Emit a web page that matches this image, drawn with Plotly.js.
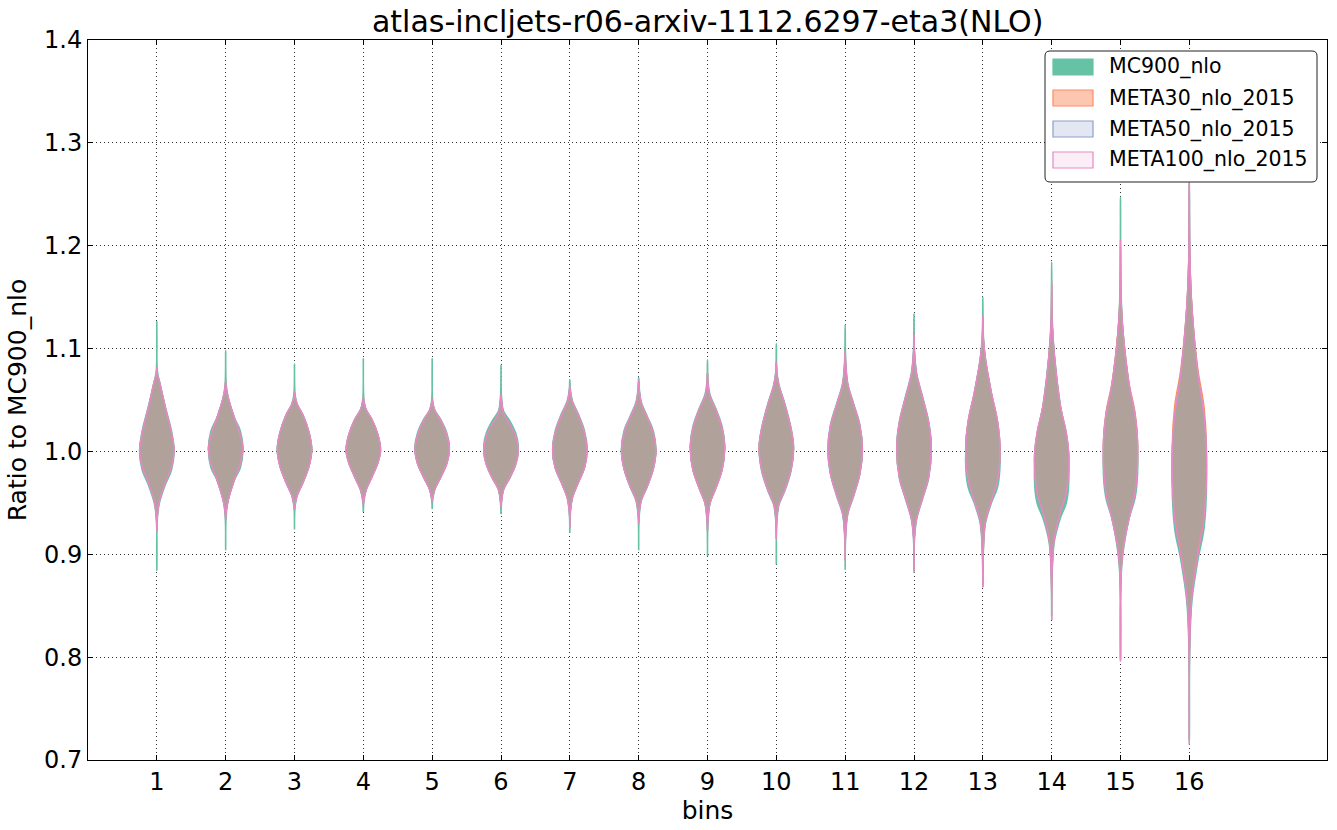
<!DOCTYPE html>
<html>
<head>
<meta charset="utf-8">
<script src="https://cdn.plot.ly/plotly-3.0.1.min.js"></script>
<style>html,body{margin:0;padding:0;background:#fff;}#chart{width:1337px;height:830px;}</style>
</head>
<body>
<div id="chart"></div>
<script>
// ---- data ----
const bins = [1,2,3,4,5,6,7,8,9,10,11,12,13,14,15,16];
const seriesNames = ["MC900_nlo","META30_nlo_2015","META50_nlo_2015","META100_nlo_2015"];
// relative half-width (fraction of the violin's max width) at each profile level, top to bottom
const widthLevels = [0, 0.03, 0.15, 0.5, 0.85, 1, 0.85, 0.5, 0.15, 0.03, 0];
// y values of each profile level, per bin
const mc900Y = [
  [1.126,1.078,1.068,1.043,1.020,1.000,0.982,0.968,0.950,0.935,0.884],
  [1.098,1.065,1.052,1.033,1.020,1.003,0.984,0.972,0.953,0.938,0.904],
  [1.085,1.056,1.046,1.035,1.018,1.002,0.986,0.970,0.957,0.946,0.924],
  [1.090,1.051,1.041,1.031,1.016,1.001,0.990,0.976,0.962,0.951,0.941],
  [1.090,1.049,1.040,1.031,1.018,1.004,0.989,0.975,0.963,0.953,0.944],
  [1.084,1.052,1.039,1.030,1.018,1.006,0.988,0.974,0.963,0.950,0.939],
  [1.070,1.060,1.049,1.036,1.020,1.002,0.984,0.970,0.955,0.940,0.921],
  [1.072,1.062,1.048,1.034,1.020,1.002,0.983,0.966,0.952,0.937,0.904],
  [1.089,1.068,1.055,1.041,1.024,1.005,0.983,0.965,0.950,0.932,0.898],
  [1.105,1.078,1.065,1.046,1.023,1.004,0.981,0.962,0.948,0.932,0.890],
  [1.123,1.088,1.066,1.046,1.026,1.002,0.978,0.957,0.939,0.918,0.885],
  [1.134,1.097,1.076,1.053,1.029,1.005,0.974,0.954,0.934,0.916,0.882],
  [1.150,1.112,1.090,1.056,1.026,0.990,0.965,0.950,0.930,0.903,0.870],
  [1.184,1.128,1.095,1.045,1.012,0.975,0.950,0.935,0.912,0.883,0.840],
  [1.247,1.155,1.115,1.063,1.025,0.985,0.955,0.935,0.902,0.878,0.798],
  [1.260,1.185,1.138,1.072,1.025,0.975,0.925,0.895,0.855,0.815,0.720]
];
const meta30Y = [
  [1.082,1.075,1.068,1.042,1.018,1.001,0.985,0.970,0.952,0.937,0.922],
  [1.069,1.062,1.052,1.033,1.016,1.003,0.988,0.972,0.953,0.942,0.933],
  [1.058,1.053,1.046,1.035,1.018,1.002,0.986,0.970,0.957,0.948,0.943],
  [1.053,1.049,1.041,1.031,1.016,1.001,0.989,0.975,0.962,0.953,0.948],
  [1.051,1.047,1.040,1.030,1.016,1.002,0.988,0.975,0.963,0.955,0.951],
  [1.056,1.050,1.037,1.027,1.015,1.000,0.987,0.974,0.963,0.952,0.946],
  [1.064,1.058,1.048,1.035,1.018,1.001,0.984,0.970,0.955,0.942,0.926],
  [1.069,1.060,1.047,1.033,1.018,1.001,0.983,0.966,0.953,0.940,0.930],
  [1.077,1.065,1.053,1.040,1.022,1.003,0.982,0.965,0.950,0.935,0.923],
  [1.087,1.076,1.064,1.045,1.022,1.004,0.982,0.963,0.949,0.935,0.915],
  [1.098,1.085,1.065,1.045,1.025,1.002,0.978,0.958,0.940,0.920,0.894],
  [1.114,1.095,1.075,1.052,1.028,1.005,0.975,0.955,0.935,0.918,0.884],
  [1.132,1.110,1.090,1.057,1.030,1.003,0.972,0.952,0.932,0.905,0.868],
  [1.166,1.125,1.095,1.045,1.018,0.995,0.960,0.940,0.915,0.885,0.836],
  [1.206,1.152,1.117,1.067,1.038,1.008,0.962,0.936,0.906,0.880,0.796],
  [1.265,1.192,1.142,1.080,1.045,1.005,0.940,0.905,0.862,0.822,0.718]
];
const meta50Y = [
  [1.082,1.075,1.068,1.042,1.018,1.001,0.985,0.970,0.952,0.937,0.922],
  [1.069,1.062,1.052,1.033,1.016,1.003,0.988,0.972,0.953,0.942,0.933],
  [1.058,1.053,1.046,1.035,1.018,1.002,0.986,0.970,0.957,0.948,0.943],
  [1.053,1.049,1.041,1.031,1.016,1.001,0.989,0.975,0.962,0.953,0.948],
  [1.051,1.047,1.040,1.030,1.016,1.002,0.988,0.975,0.963,0.955,0.951],
  [1.056,1.050,1.037,1.027,1.015,1.000,0.987,0.974,0.963,0.952,0.946],
  [1.064,1.058,1.048,1.035,1.018,1.001,0.984,0.970,0.955,0.942,0.926],
  [1.069,1.060,1.047,1.033,1.018,1.001,0.983,0.966,0.953,0.940,0.930],
  [1.077,1.065,1.053,1.040,1.022,1.003,0.982,0.965,0.950,0.935,0.923],
  [1.087,1.076,1.064,1.045,1.022,1.004,0.982,0.963,0.949,0.935,0.915],
  [1.098,1.085,1.065,1.045,1.025,1.002,0.978,0.958,0.940,0.920,0.894],
  [1.114,1.095,1.075,1.052,1.028,1.005,0.975,0.955,0.935,0.918,0.884],
  [1.132,1.110,1.090,1.057,1.030,1.003,0.972,0.952,0.932,0.905,0.868],
  [1.166,1.125,1.095,1.045,1.018,0.995,0.960,0.940,0.915,0.885,0.836],
  [1.206,1.150,1.115,1.065,1.035,1.005,0.960,0.935,0.905,0.880,0.796],
  [1.270,1.190,1.140,1.075,1.035,0.995,0.935,0.900,0.860,0.820,0.715]
];
const meta100Y = [
  [1.082,1.075,1.068,1.042,1.018,1.001,0.985,0.970,0.952,0.937,0.922],
  [1.069,1.062,1.052,1.033,1.016,1.003,0.988,0.972,0.953,0.942,0.933],
  [1.058,1.053,1.046,1.035,1.018,1.002,0.986,0.970,0.957,0.948,0.943],
  [1.053,1.049,1.041,1.031,1.016,1.001,0.989,0.975,0.962,0.953,0.948],
  [1.051,1.047,1.040,1.030,1.016,1.002,0.988,0.975,0.963,0.955,0.951],
  [1.056,1.050,1.037,1.027,1.015,1.000,0.987,0.974,0.963,0.952,0.946],
  [1.064,1.058,1.048,1.035,1.018,1.001,0.984,0.970,0.955,0.942,0.926],
  [1.069,1.060,1.047,1.033,1.018,1.001,0.983,0.966,0.953,0.940,0.930],
  [1.077,1.065,1.053,1.040,1.022,1.003,0.982,0.965,0.950,0.935,0.923],
  [1.087,1.076,1.064,1.045,1.022,1.004,0.982,0.963,0.949,0.935,0.915],
  [1.098,1.085,1.065,1.045,1.025,1.002,0.978,0.958,0.940,0.920,0.894],
  [1.114,1.095,1.075,1.052,1.028,1.005,0.975,0.955,0.935,0.918,0.884],
  [1.132,1.110,1.090,1.057,1.030,1.003,0.972,0.952,0.932,0.905,0.868],
  [1.166,1.125,1.095,1.045,1.018,0.995,0.960,0.940,0.915,0.885,0.836],
  [1.206,1.150,1.115,1.065,1.035,1.005,0.960,0.935,0.905,0.880,0.796],
  [1.270,1.190,1.140,1.075,1.035,0.995,0.935,0.900,0.860,0.820,0.715]
];
const yTickVals = [0.7,0.8,0.9,1.0,1.1,1.2,1.3,1.4];

// ---- styling ----
const maxHalfWidth = 0.25;
const styles = [
  {line:"#66c2a5", fill:"rgb(102,194,165)", lw: 1.6},
  {line:"#fc8d62", fill:"rgba(252,141,98,0.5)", lw: 1.2},
  {line:"#8da0cb", fill:"rgba(141,160,203,0.25)", lw: 1.2},
  {line:"#e78ac3", fill:"rgba(231,138,195,0.15)", lw: 1.4}
];
const seriesY = [mc900Y, meta30Y, meta50Y, meta100Y];

const traces = [];
seriesY.forEach((arr, s) => {
  bins.forEach((b, i) => {
    const ys = arr[i];
    const x = [], y = [];
    for (let k = 0; k < ys.length; k++) { x.push(b + widthLevels[k]*maxHalfWidth); y.push(ys[k]); }
    for (let k = ys.length-1; k >= 0; k--) { x.push(b - widthLevels[k]*maxHalfWidth); y.push(ys[k]); }
    traces.push({
      type: "scatter", mode: "lines", x: x, y: y,
      fill: "toself", fillcolor: styles[s].fill,
      line: {color: styles[s].line, width: styles[s].lw, shape: "spline", smoothing: 1},
      name: seriesNames[s], showlegend: false, hoverinfo: "skip"
    });
  });
});

// ---- hand-built legend (matplotlib style: wide patch swatches, rounded frame) ----
const M = {l: 88, r: 10, t: 40, b: 70};
const plotW = 1337 - M.l - M.r, plotH = 830 - M.t - M.b;
const fx = px => (px - M.l) / plotW;
const fy = py => (830 - M.b - py) / plotH;
const shapes = [];
const annotations = [];
{
  const x0 = 1045, x1 = 1317, y0 = 51, y1 = 182, r = 5;
  const p = [
    `M${fx(x0+r)},${fy(y0)}`, `L${fx(x1-r)},${fy(y0)}`, `Q${fx(x1)},${fy(y0)} ${fx(x1)},${fy(y0+r)}`,
    `L${fx(x1)},${fy(y1-r)}`, `Q${fx(x1)},${fy(y1)} ${fx(x1-r)},${fy(y1)}`,
    `L${fx(x0+r)},${fy(y1)}`, `Q${fx(x0)},${fy(y1)} ${fx(x0)},${fy(y1-r)}`,
    `L${fx(x0)},${fy(y0+r)}`, `Q${fx(x0)},${fy(y0)} ${fx(x0+r)},${fy(y0)}`, "Z"
  ].join(" ");
  shapes.push({type: "path", xref: "paper", yref: "paper", path: p,
               fillcolor: "#fff", line: {color: "#222", width: 1}, layer: "above"});
  seriesNames.forEach((name, s) => {
    const cy = 67 + s * 31;
    shapes.push({type: "rect", xref: "paper", yref: "paper",
                 x0: fx(1053), x1: fx(1093), y0: fy(cy - 8), y1: fy(cy + 8),
                 fillcolor: s === 0 ? styles[0].fill :
                   (s === 1 ? "rgba(252,141,98,0.5)" : styles[s].fill),
                 line: {color: styles[s].line, width: 1.2}, layer: "above"});
    annotations.push({xref: "paper", yref: "paper", x: fx(1107), y: fy(cy),
                      xanchor: "left", yanchor: "middle", showarrow: false,
                      text: name, font: {family: "DejaVu Sans, sans-serif", size: 20.5, color: "#000"}});
  });
}

const font = "DejaVu Sans, sans-serif";
const layout = {
  width: 1337, height: 830,
  margin: M,
  paper_bgcolor: "#fff", plot_bgcolor: "#fff",
  font: {family: font, color: "#000", size: 24},
  title: {text: "atlas-incljets-r06-arxiv-1112.6297-eta3(NLO)", font: {family: font, size: 30, color: "#000"},
          x: 0.5293, xanchor: "center", y: 0.9735, yanchor: "middle"},
  showlegend: false,
  shapes: shapes,
  annotations: annotations,
  xaxis: {
    range: [0, 18], tickvals: bins, ticktext: bins.map(String),
    ticks: "inside", ticklen: 5, tickcolor: "#000", tickwidth: 1,
    showline: true, linecolor: "#000", linewidth: 1, mirror: "allticks",
    showgrid: true, gridcolor: "#333", griddash: "1px,3px", gridwidth: 1,
    zeroline: false, layer: "above traces",
    tickfont: {family: font, size: 24, color: "#000"},
    title: {text: "bins", font: {family: font, size: 25, color: "#000"}, standoff: 6}
  },
  yaxis: {
    range: [0.7, 1.4], tickvals: yTickVals, tickformat: ".1f",
    ticks: "inside", ticklen: 5, tickcolor: "#000", tickwidth: 1,
    showline: true, linecolor: "#000", linewidth: 1, mirror: "allticks",
    showgrid: true, gridcolor: "#333", griddash: "1px,3px", gridwidth: 1,
    zeroline: false, layer: "above traces",
    tickfont: {family: font, size: 24, color: "#000"},
    title: {text: "Ratio to MC900_nlo", font: {family: font, size: 25, color: "#000"}, standoff: 10}
  }
};

Plotly.newPlot("chart", traces, layout, {displayModeBar: false, staticPlot: true});
</script>
</body>
</html>
